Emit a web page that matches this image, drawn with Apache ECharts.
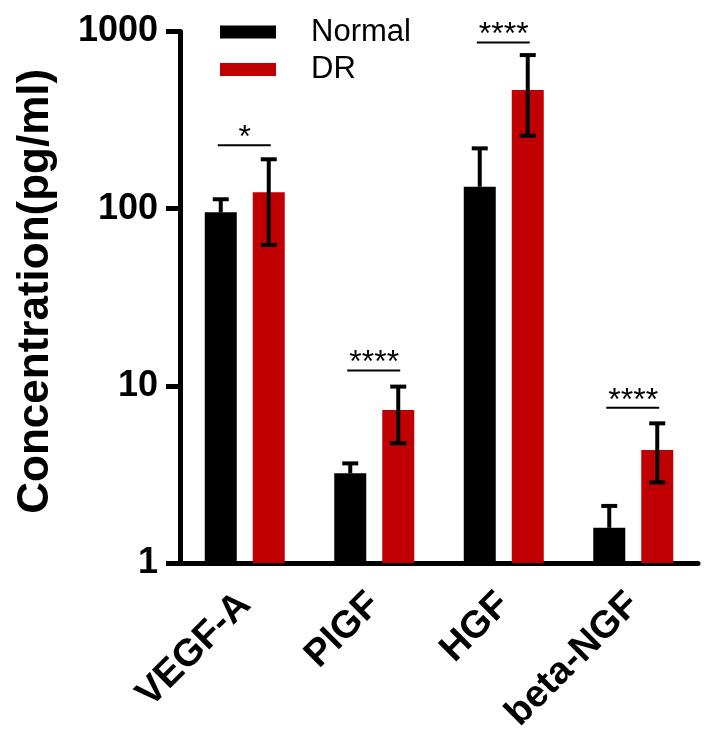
<!DOCTYPE html>
<html>
<head>
<meta charset="utf-8">
<script src="https://cdn.jsdelivr.net/npm/echarts@6/dist/echarts.min.js"></script>
<style>
html,body{margin:0;padding:0;background:#fff;}
#chart{width:713px;height:745px;}
</style>
</head>
<body>
<div id="chart"></div>
<script>
// ---- data ----
const categories = ['VEGF-A', 'PlGF', 'HGF', 'beta-NGF'];
const normalMean = [95.3, 3.21, 133, 1.58];
const normalHigh = [113, 3.65, 219, 2.10];
const drMean = [123.6, 7.3, 467, 4.34];
const drLow = [62.3, 4.74, 258, 2.85];
const drHigh = [190, 9.9, 736, 6.14];
const sigLevel = [228, 12.2, 867, 7.52];
const sigText = ['*', '****', '****', '****'];
const yTicks = [1, 10, 100, 1000];

const RED = '#C00000';
const FONT = '"Liberation Sans", Arial, Helvetica, sans-serif';
const BAR_W = 32;
const OFF = 24; // half bar width + half gap

function errRender(offset, bothSides) {
  return function (params, api) {
    const i = api.value(0);
    const lo = api.value(1);
    const hi = api.value(2);
    const pLo = api.coord([i, lo]);
    const pHi = api.coord([i, hi]);
    const x = pLo[0] + offset;
    const cap = 8;
    const st = { stroke: '#000', lineWidth: 4 };
    const children = [
      { type: 'line', shape: { x1: x, y1: pLo[1], x2: x, y2: pHi[1] }, style: st },
      { type: 'line', shape: { x1: x - cap, y1: pHi[1], x2: x + cap, y2: pHi[1] }, style: st }
    ];
    if (bothSides) {
      children.push({ type: 'line', shape: { x1: x - cap, y1: pLo[1], x2: x + cap, y2: pLo[1] }, style: st });
    }
    return { type: 'group', children: children };
  };
}

function sigRender(params, api) {
  const i = api.value(0);
  const p = api.coord([i, api.value(1)]);
  const txt = sigText[params.dataIndex];
  return {
    type: 'group',
    children: [
      { type: 'line', shape: { x1: p[0] - 27, y1: p[1], x2: p[0] + 26, y2: p[1] }, style: { stroke: '#000', lineWidth: 2 } },
      { type: 'text', x: p[0], y: p[1] - 7, style: { text: txt, fill: '#000', font: '32px ' + FONT, align: 'center', verticalAlign: 'middle' } }
    ]
  };
}

const chart = echarts.init(document.getElementById('chart'), null, { renderer: 'canvas' });
chart.setOption({
  backgroundColor: '#fff',
  animation: false,
  grid: { left: 180, right: 15, top: 31.5, bottom: 182, outerBoundsMode: 'none' },
  legend: {
    left: 220, top: 16.5, orient: 'vertical', padding: 0,
    itemWidth: 56, itemHeight: 13, itemGap: 6.5,
    icon: 'rect',
    data: ['Normal', 'DR'],
    textStyle: { fontSize: 31, fontFamily: FONT, color: '#000', lineHeight: 31, padding: [0, 0, 0, 30] }
  },
  xAxis: {
    type: 'category',
    data: categories,
    axisLine: { lineStyle: { color: '#000', width: 5 } },
    axisTick: { alignWithLabel: true, length: 15, lineStyle: { color: '#000', width: 5 } },
    axisLabel: { rotate: 45, fontSize: 38, fontWeight: 'bold', fontFamily: FONT, color: '#000', margin: 36 }
  },
  yAxis: {
    type: 'log', logBase: 10, min: yTicks[0], max: yTicks[yTicks.length - 1],
    name: 'Concentration(pg/ml)', nameLocation: 'middle', nameRotate: 90, nameGap: 122,
    nameTextStyle: { fontSize: 44, fontWeight: 'bold', fontFamily: FONT, color: '#000', padding: [0, 0, 0, 12] },
    axisLine: { show: true, lineStyle: { color: '#000', width: 5 } },
    axisTick: { show: true, length: 14, lineStyle: { color: '#000', width: 5 } },
    axisLabel: { fontSize: 36, fontWeight: 'bold', fontFamily: FONT, color: '#000', margin: 22,
      formatter: function (v) { return String(Math.round(v)); } },
    splitLine: { show: false },
    minorTick: { show: false }
  },
  series: [
    { name: 'Normal', type: 'bar', data: normalMean, barWidth: BAR_W, barGap: '50%', itemStyle: { color: '#000' }, z: 2 },
    { name: 'DR', type: 'bar', data: drMean, barWidth: BAR_W, barGap: '50%', itemStyle: { color: RED }, z: 2 },
    { type: 'custom', renderItem: errRender(-OFF, false), encode: { x: 0, y: [1, 2] },
      data: categories.map((c, i) => [i, normalMean[i], normalHigh[i]]), z: 5, silent: true },
    { type: 'custom', renderItem: errRender(OFF, true), encode: { x: 0, y: [1, 2] },
      data: categories.map((c, i) => [i, drLow[i], drHigh[i]]), z: 5, silent: true },
    { type: 'custom', renderItem: sigRender, encode: { x: 0, y: 1 },
      data: categories.map((c, i) => [i, sigLevel[i]]), z: 5, silent: true }
  ]
});
</script>
</body>
</html>
